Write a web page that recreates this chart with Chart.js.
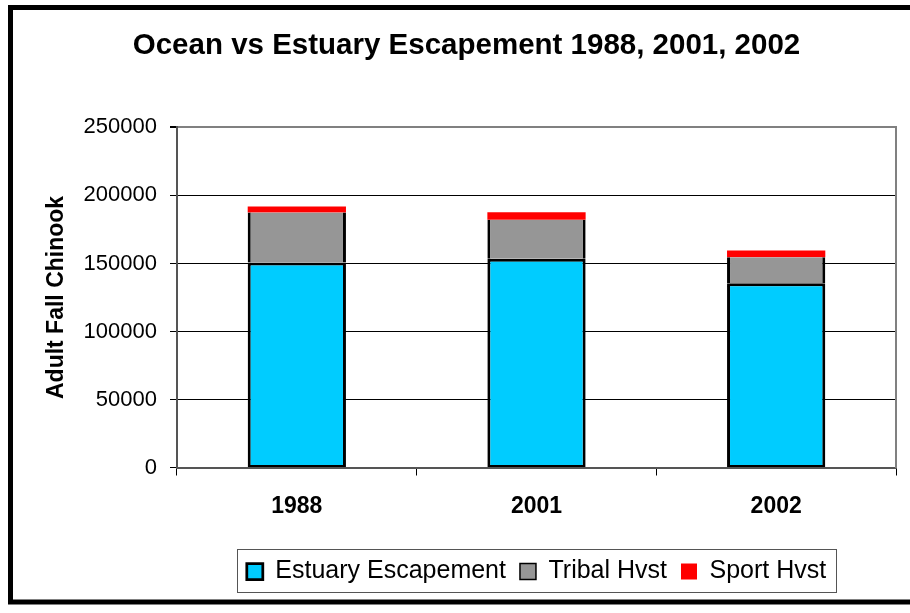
<!DOCTYPE html>
<html>
<head>
<meta charset="utf-8">
<script src="https://cdn.jsdelivr.net/npm/chart.js@4/dist/chart.umd.min.js"></script>
<style>
  html, body { margin: 0; padding: 0; background: #fff; }
  #wrap { width: 910px; height: 613px; }
</style>
</head>
<body>
<div id="wrap"><canvas id="chart" width="910" height="613"></canvas></div>
<script>
// values
const years = ["1988", "2001", "2002"];
const estuary = [150700, 153500, 135500];
const tribal = [36800, 28600, 19100];
const sport = [4400, 5600, 5000];
const yTicks = [0, 50000, 100000, 150000, 200000, 250000];

const FONT = "'Liberation Sans', Arial, sans-serif";

// outer black frame + grey box round the legend
const framePlugin = {
  id: "frame",
  beforeDraw(chart) {
    const ctx = chart.ctx;
    ctx.save();
    ctx.fillStyle = "#fff";
    ctx.fillRect(0, 0, chart.width, chart.height);
    ctx.restore();
  },
  afterDraw(chart) {
    const ctx = chart.ctx;
    ctx.save();
    ctx.strokeStyle = "#000";
    ctx.lineWidth = 5;
    ctx.strokeRect(10.5, 7.5, 905, 594.5);

    const boxes = chart.legend.legendHitBoxes;
    if (boxes && boxes.length) {
      const first = boxes[0], last = boxes[boxes.length - 1];
      const l = first.left - 10, r = last.left + last.width + 10;
      const t = first.top - 10, b = first.top + first.height + 8;
      ctx.strokeStyle = "#555";
      ctx.lineWidth = 1;
      ctx.strokeRect(Math.round(l) + 0.5, Math.round(t) + 0.5, Math.round(r - l), Math.round(b - t));
    }
    ctx.restore();
  }
};

new Chart(document.getElementById("chart"), {
  type: "bar",
  data: {
    labels: years,
    datasets: [
      {
        label: "Estuary Escapement",
        data: estuary,
        backgroundColor: "#00ccff",
        borderColor: "#000",
        borderWidth: { left: 3, right: 3, top: 3, bottom: 2 },
        borderSkipped: false
      },
      {
        label: "Tribal Hvst",
        data: tribal,
        backgroundColor: "#969696",
        borderColor: "#000",
        borderWidth: { left: 3, right: 3, top: 0, bottom: 0 },
        borderSkipped: false
      },
      {
        label: "Sport Hvst",
        data: sport,
        backgroundColor: "#ff0000",
        borderWidth: 0
      }
    ]
  },
  options: {
    responsive: false,
    animation: false,
    layout: { padding: { left: 23, right: 0, top: 0, bottom: 19 } },
    datasets: { bar: { categoryPercentage: 1, barPercentage: 0.41 } },
    plugins: {
      tooltip: { enabled: false },
      title: {
        display: true,
        text: "Ocean vs Estuary Escapement 1988, 2001, 2002",
        color: "#000",
        font: { family: FONT, size: 29.5, weight: "bold" },
        padding: { top: 28, bottom: 64 }
      },
      legend: {
        position: "bottom",
        fullSize: false,
        labels: {
          color: "#000",
          font: { family: FONT, size: 25 },
          boxWidth: 16,
          boxHeight: 16,
          padding: 14
        }
      }
    },
    scales: {
      x: {
        stacked: true,
        afterFit(scale) { scale.height = 77.5; },
        grid: {
          offset: true,
          drawOnChartArea: false,
          drawTicks: true,
          tickLength: 8,
          color: "#000"
        },
        border: { display: true, color: "#555", width: 2 },
        ticks: {
          color: "#000",
          padding: 17,
          font: { family: FONT, size: 23, weight: "bold" }
        }
      },
      y: {
        stacked: true,
        min: 0,
        max: 250000,
        afterFit(scale) { scale.width = 154; },
        afterBuildTicks(scale) { scale.ticks = yTicks.map(v => ({ value: v })); },
        title: {
          display: true,
          text: "Adult Fall Chinook",
          color: "#000",
          font: { family: FONT, size: 23, weight: "bold" },
          padding: { top: 20, bottom: 0 }
        },
        grid: {
          color: ctx => (ctx.tick && ctx.tick.value === 250000 ? "#808080" : "#000"),
          lineWidth: ctx => (ctx.tick && ctx.tick.value === 250000 ? 2 : 1),
          tickColor: "#000",
          tickLength: 7
        },
        border: { display: true, color: "#555", width: 2 },
        ticks: {
          color: "#000",
          padding: 13,
          font: { family: FONT, size: 22 },
          callback: v => String(v)
        }
      },
      // empty right-hand axis: keeps the plot's right edge and draws its grey side
      y2: {
        position: "right",
        min: 0,
        max: 1,
        afterFit(scale) { scale.width = 14; },
        grid: { drawOnChartArea: false, drawTicks: false },
        ticks: { display: false },
        border: { display: true, color: "#808080", width: 2 }
      }
    }
  },
  plugins: [framePlugin]
});
</script>
</body>
</html>
